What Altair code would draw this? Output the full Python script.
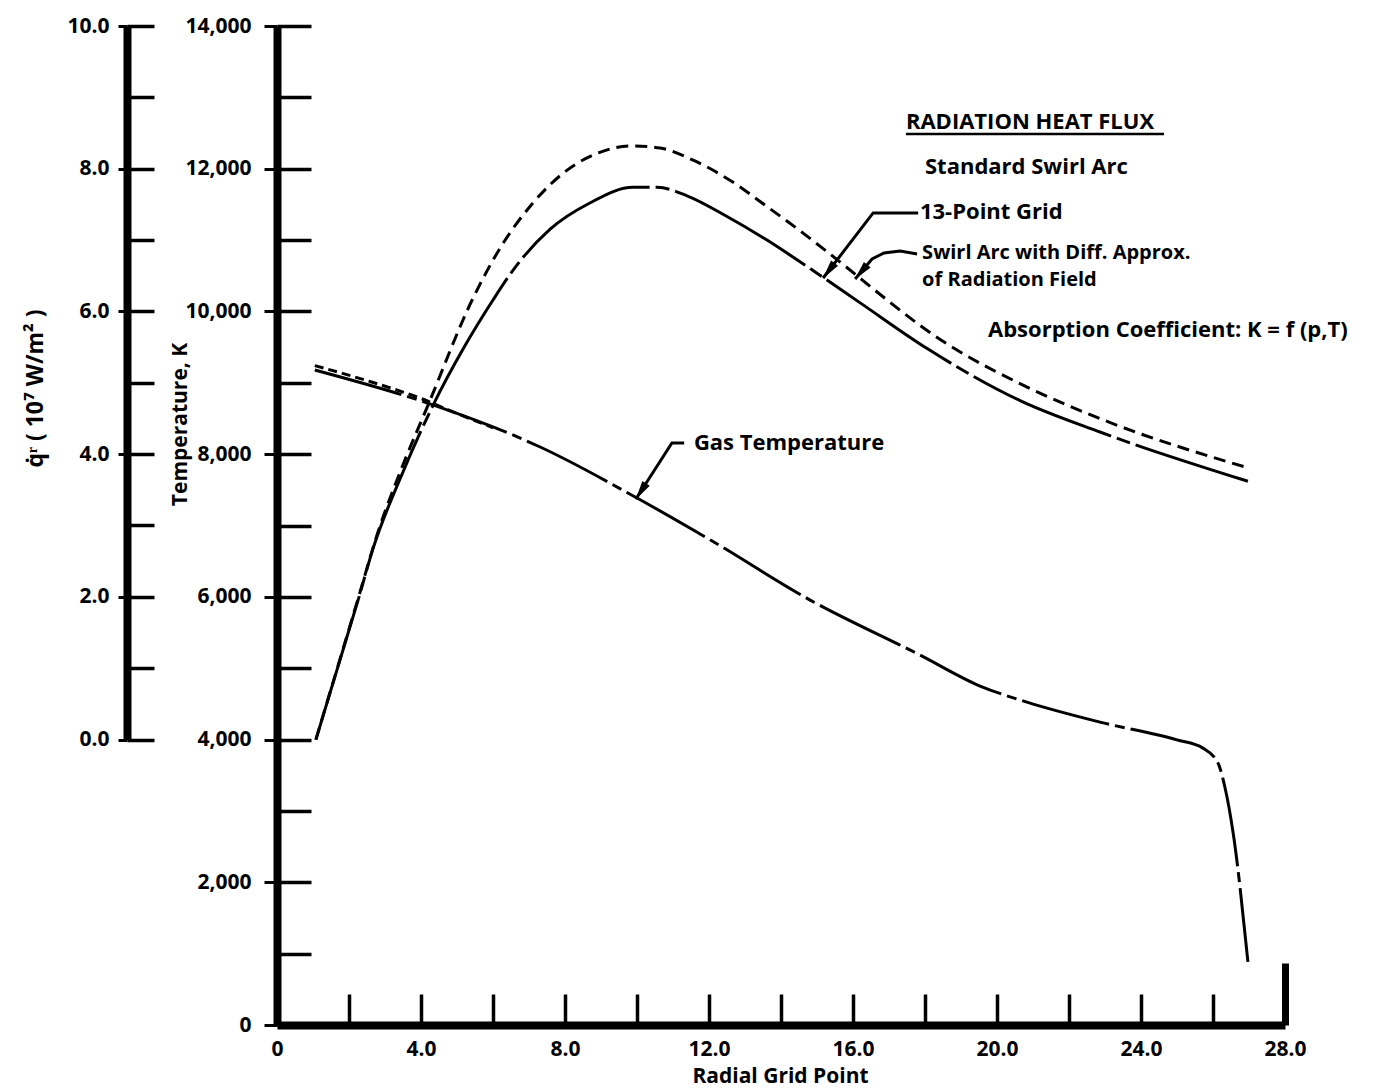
import math

import altair as alt
import pandas as pd

# ---------------------------------------------------------------- data ----
# Radiation heat flux, standard swirl arc, 13-point grid (10^7 W/m^2)
flux_grid_x = [1.08, 2.25, 2.67, 3.5, 4.33, 5.2, 6.0, 6.56, 7.58, 8.69, 9.89,
               10.56, 11.39, 12.5, 13.61, 14.81, 16.2, 18.06, 20.64, 22.86, 26.97]
flux_grid_q = [0.0, 1.95, 2.68, 3.75, 4.68, 5.5, 6.16, 6.58, 7.15, 7.52, 7.74,
               7.74, 7.62, 7.33, 7.0, 6.6, 6.12, 5.48, 4.75, 4.31, 3.62]

# Radiation heat flux, swirl arc with diffusion approximation (10^7 W/m^2)
flux_diff_x = [1.08, 2.25, 2.78, 3.5, 4.19, 5.42, 6.25, 7.11, 8.06, 8.97, 9.89,
               10.64, 11.56, 12.67, 13.61, 14.53, 15.17, 18.69, 20.92, 23.0, 27.03]
flux_diff_q = [0.0, 1.97, 2.87, 3.85, 4.68, 6.16, 6.93, 7.52, 7.98, 8.23, 8.32,
               8.29, 8.12, 7.81, 7.47, 7.13, 6.88, 5.52, 4.92, 4.47, 3.80]

# Gas temperature (K)
gas_x = [1.05, 4.33, 7.31, 10.0, 12.03, 14.81, 17.86, 19.53, 20.83, 22.86,
         25.0, 25.72, 26.14, 26.33, 26.56, 26.97]
gas_T = [9180, 8690, 8100, 7385, 6800, 5955, 5185, 4750, 4525, 4245,
         3995, 3880, 3670, 3335, 2690, 885]

# Gas temperature near the axis, diffusion-approximation case (K)
gas_diff_x = [1.05, 2.5, 4.0, 5.0, 6.0]
gas_diff_T = [9240, 9030, 8780, 8570, 8370]

# Axis ticks
x_labels = [0, 4, 8, 12, 16, 20, 24, 28]
x_minor = [2, 4, 6, 8, 10, 12, 14, 16, 18, 20, 22, 24, 26]
x_end = [28]
T_labels = [0, 2000, 4000, 6000, 8000, 10000, 12000, 14000]
T_ticks = list(range(0, 14001, 1000))
q_labels = [0, 2, 4, 6, 8, 10]
q_ticks = list(range(0, 11))

# Annotation texts: (text, x, T)
note_text = ["RADIATION HEAT FLUX", "Standard Swirl Arc", "13-Point Grid",
             "Absorption Coefficient:  K  =  f (p,T)", "Gas Temperature"]
note_x = [17.47, 18.0, 17.86, 19.75, 11.58]
note_T = [12655, 12024, 11393, 9740, 8156]

# Two-line label of the diffusion-approximation curve
diff_note_text = ["Swirl Arc with Diff. Approx.\nof Radiation Field"]
diff_note_x = [17.92]
diff_note_T = [10820]

# Underline of the heading
underline_x = [17.47]
underline_x2 = [24.64]
underline_T = [12486]

# Leader lines: (id, x, T); the last point of each is the arrow tip
leader_id = ["grid", "grid", "grid",
             "diff", "diff", "diff", "diff", "diff",
             "gas", "gas", "gas"]
leader_x = [17.81, 16.56, 15.17,
            17.78, 17.31, 16.86, 16.53, 16.06,
            11.31, 10.97, 9.97]
leader_T = [11380, 11380, 10468,
            10805, 10847, 10819, 10735, 10454,
            8156, 8156, 7371]

# ------------------------------------------------------------- layout ----
W, H = 1008, 999
T_MAX = 14000
Q_SPAN = H * 10000 / T_MAX      # q = 0..10 shares the T = 4000..14000 span
PX_X = W / 28.0                 # pixels per grid point
PX_T = H / T_MAX                # pixels per kelvin
FONT = "Open Sans"
INK = "black"

x_scale = alt.Scale(domain=[0, 28], nice=False, zero=False)
T_scale = alt.Scale(domain=[0, T_MAX], nice=False, zero=False)
q_scale = alt.Scale(domain=[0, 10], range=[Q_SPAN, 0], nice=False, zero=False)

x_label_axis = alt.Axis(
    orient="bottom", values=x_labels,
    labelExpr="datum.value == 0 ? '0' : format(datum.value, '.1f')",
    tickSize=0, labelPadding=13, labelFontSize=21, domainWidth=8,
    title="Radial Grid Point", titleX=503, titleY=51,
    titleAlign="center", titleBaseline="middle", titleFontSize=21)
x_tick_axis = alt.Axis(orient="top", offset=-H, values=x_minor, labels=False,
                       domain=False, tickSize=31, tickWidth=3.5, title=None)
x_end_axis = alt.Axis(orient="top", offset=-H, values=x_end, labels=False,
                      domain=False, tickSize=62, tickWidth=7, title=None)

T_label_axis = alt.Axis(
    orient="left", values=T_labels, format=",d", tickSize=13, tickWidth=3,
    labelPadding=13, labelFontSize=21, domainWidth=8,
    title="Temperature, K", titleAngle=270, titleX=-97, titleY=398,
    titleAlign="center", titleBaseline="middle", titleFontSize=21)
T_tick_axis = alt.Axis(orient="right", offset=-W, values=T_ticks, labels=False,
                       domain=False, tickSize=34, tickWidth=3.5, title=None)

q_label_axis = alt.Axis(
    orient="left", offset=150, values=q_labels, format=".1f", tickSize=9,
    tickWidth=3, labelPadding=9, labelFontSize=21, domainWidth=8,
    title="q\u0307\u02b3  ( 10\u2077  W/m\u00b2 )", titleAngle=270,
    titleX=-92, titleY=362, titleAlign="center", titleBaseline="middle",
    titleFontSize=23)
q_tick_axis = alt.Axis(orient="right", offset=-(W + 150), values=q_ticks,
                       labels=False, domain=False, tickSize=27, tickWidth=3.5,
                       title=None)


def xenc(axis):
    return alt.X("x:Q", scale=x_scale, axis=axis)


def tenc(axis=None):
    return alt.Y("T:Q", scale=T_scale, axis=axis)


def qenc(axis=None):
    return alt.Y("q:Q", scale=q_scale, axis=axis)


gas_df = pd.DataFrame({"x": gas_x, "T": gas_T})
gas_diff_df = pd.DataFrame({"x": gas_diff_x, "T": gas_diff_T})
flux_grid_df = pd.DataFrame({"x": flux_grid_x, "q": flux_grid_q})
flux_diff_df = pd.DataFrame({"x": flux_diff_x, "q": flux_diff_q})

gas_layer = alt.Chart(gas_df).mark_line(
    color=INK, strokeWidth=3, strokeDash=[90, 6, 10, 6], interpolate="monotone"
).encode(x=xenc(x_label_axis), y=tenc(T_label_axis))

gas_diff_layer = alt.Chart(gas_diff_df).mark_line(
    color=INK, strokeWidth=3, strokeDash=[9, 5], interpolate="monotone"
).encode(x=xenc(x_tick_axis), y=tenc(T_tick_axis))

flux_grid_layer = alt.Chart(flux_grid_df).mark_line(
    color=INK, strokeWidth=3, strokeDash=[150, 6, 14, 6], interpolate="monotone"
).encode(x=xenc(None), y=qenc(q_label_axis))

flux_diff_layer = alt.Chart(flux_diff_df).mark_line(
    color=INK, strokeWidth=3, strokeDash=[12, 7], interpolate="monotone"
).encode(x=xenc(x_end_axis), y=qenc(q_tick_axis))

# leader lines with arrowheads
leader_df = pd.DataFrame({"id": leader_id, "x": leader_x, "T": leader_T})
leader_df["order"] = range(len(leader_df))

heads = []
for key, grp in leader_df.groupby("id", sort=False):
    (x0, t0), (x1, t1) = grp[["x", "T"]].values[-2:]
    dx = (x1 - x0) * PX_X
    dy = -(t1 - t0) * PX_T
    length = math.hypot(dx, dy)
    ux, uy = dx / length, dy / length
    back = 9.0  # head centre sits half a head-length behind the tip
    heads.append({
        "x": x1 - ux * back / PX_X,
        "T": t1 + uy * back / PX_T,
        "angle": math.degrees(math.atan2(dx, -dy)) % 360,
    })
head_df = pd.DataFrame(heads)

leader_layer = alt.Chart(leader_df).mark_line(color=INK, strokeWidth=3).encode(
    x=xenc(None), y=tenc(), detail="id:N", order="order:Q")

head_layer = alt.Chart(head_df).mark_point(
    shape="M0,-1L0.45,1L-0.45,1Z", filled=True, color=INK, opacity=1,
    size=380, strokeWidth=0
).encode(x=xenc(None), y=tenc(), angle=alt.Angle("angle:Q", scale=None))

underline_df = pd.DataFrame({"x": underline_x, "x2": underline_x2, "T": underline_T})
underline_layer = alt.Chart(underline_df).mark_rule(color=INK, strokeWidth=2.5).encode(
    x=xenc(None), x2="x2:Q", y=tenc())

note_df = pd.DataFrame({"text": note_text, "x": note_x, "T": note_T})
text_layer = alt.Chart(note_df).mark_text(
    align="left", baseline="middle", font=FONT, fontSize=22,
    fontWeight="bold", color=INK
).encode(x=xenc(None), y=tenc(), text="text:N")

diff_note_df = pd.DataFrame({"text": diff_note_text, "x": diff_note_x,
                             "T": diff_note_T})
diff_text_layer = alt.Chart(diff_note_df).mark_text(
    align="left", baseline="middle", font=FONT, fontSize=20,
    fontWeight="bold", color=INK, lineBreak="\n", lineHeight=27
).encode(x=xenc(None), y=tenc(), text="text:N")

chart = (
    alt.layer(gas_layer, gas_diff_layer, flux_grid_layer, flux_diff_layer,
              leader_layer, head_layer, underline_layer, text_layer,
              diff_text_layer)
    .resolve_scale(y="independent")
    .resolve_axis(x="independent", y="independent")
    .properties(
        width=W, height=H,
        padding={"left": 277, "top": 26, "right": 96, "bottom": 63},
        autosize=alt.AutoSizeParams(type="none"),
        background="white",
    )
    .configure_view(strokeWidth=0)
    .configure_axis(
        grid=False, labelFont=FONT, labelFontWeight="bold", labelColor=INK,
        titleFont=FONT, titleFontWeight="bold", titleColor=INK,
        domainColor=INK, tickColor=INK, labelOverlap=False,
        labelFlush=False, labelBound=False,
    )
)

chart.save("out.html", embed_options={"renderer": "svg", "actions": False})
